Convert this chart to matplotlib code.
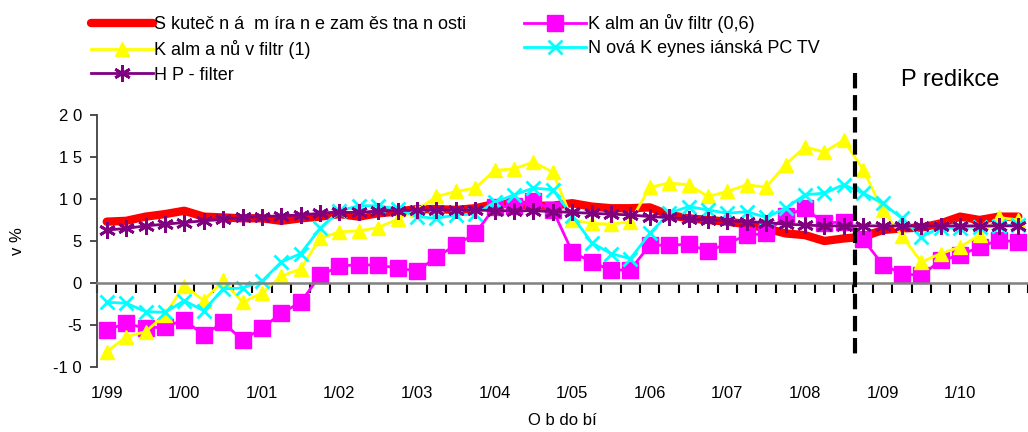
import numpy as np
import matplotlib.pyplot as plt

plt.rcParams['font.family'] = ['Liberation Sans', 'DejaVu Sans']

# quarterly data 1/99 .. 4/10
tick_labels = ['1/99', '1/00', '1/01', '1/02', '1/03', '1/04',
               '1/05', '1/06', '1/07', '1/08', '1/09', '1/10']

skutecna = [7.3, 7.4, 7.9, 8.2, 8.6, 7.9, 7.8, 7.7, 7.7, 7.4, 7.7, 7.9,
            8.2, 7.9, 8.3, 8.5, 8.8, 8.8, 8.7, 8.9, 9.4, 9.4, 9.2, 9.2,
            9.5, 9.1, 8.9, 8.9, 9.0, 8.1, 7.7, 7.5, 7.3, 7.0, 6.5, 5.9,
            5.7, 5.0, 5.3, 5.5, 6.3, 6.5, 6.6, 7.1, 7.9, 7.5, 7.9, 7.9]

kalman_06 = [-5.6, -4.8, -5.4, -5.2, -4.4, -6.2, -4.7, -6.8, -5.4, -3.6, -2.3, 0.9,
             2.0, 2.2, 2.1, 1.8, 1.4, 3.1, 4.5, 5.9, 9.0, 9.2, 9.8, 8.7,
             3.7, 2.5, 1.5, 1.6, 4.5, 4.5, 4.6, 3.8, 4.7, 5.7, 5.9, 8.0,
             8.9, 7.1, 7.3, 5.2, 2.2, 1.1, 0.9, 2.7, 3.3, 4.3, 5.1, 4.9]

kalman_1 = [-8.2, -6.4, -5.8, -3.8, -0.3, -2.1, 0.3, -2.3, -1.2, 0.8, 1.7, 5.3,
            6.1, 6.2, 6.6, 7.6, 8.7, 10.3, 10.9, 11.3, 13.4, 13.6, 14.4, 13.2,
            7.5, 7.1, 7.0, 7.3, 11.4, 11.9, 11.7, 10.3, 10.9, 11.7, 11.4, 14.1,
            16.2, 15.6, 17.0, 13.5, 8.7, 5.6, 2.5, 3.5, 4.3, 5.7, 7.8, 7.5]

nk_pc_tv = [-2.3, -2.4, -3.4, -3.5, -2.1, -3.3, -0.7, -0.6, 0.2, 2.5, 3.5, 6.5,
            8.6, 9.2, 9.2, 8.8, 7.9, 7.7, 8.1, 8.2, 9.6, 10.5, 11.3, 11.1,
            8.0, 4.8, 3.5, 2.9, 5.9, 8.3, 9.1, 8.7, 8.3, 8.5, 7.8, 8.9,
            10.5, 10.7, 11.7, 10.7, 9.5, 7.7, 5.5, 6.6, 6.6, 6.7, 6.8, 6.9]

hp_filter = [6.3, 6.5, 6.8, 7.0, 7.2, 7.4, 7.6, 7.8, 7.9, 8.0, 8.1, 8.3,
             8.4, 8.4, 8.55, 8.6, 8.7, 8.7, 8.7, 8.7, 8.6, 8.6, 8.6, 8.5,
             8.4, 8.3, 8.2, 8.1, 7.9, 7.8, 7.6, 7.5, 7.4, 7.3, 7.2, 7.0,
             6.9, 6.8, 6.8, 6.8, 6.8, 6.8, 6.8, 6.8, 6.8, 6.8, 6.8, 6.8]

pred_start = 38.6   # where the forecast begins

x = np.arange(len(skutecna))

fig = plt.figure(figsize=(10.28, 4.32), dpi=100)
ax = fig.add_axes([0.0944, 0.1505, 0.9056, 0.5833])

h_sk, = ax.plot(x, skutecna, color='#FF0000', lw=6, solid_capstyle='round',
                label='S kuteč n á  m íra n e zam ěs tna n osti')
h_k06, = ax.plot(x, kalman_06, color='#FF00FF', lw=2, marker='s', ms=11,
                 label='K alm an ův filtr (0,6)')
h_k1, = ax.plot(x, kalman_1, color='#FFFF00', lw=2, marker='^', ms=10,
                label='K alm a nů v filtr (1)')
h_nk, = ax.plot(x, nk_pc_tv, color='#00FFFF', lw=2, marker='x', ms=10, mew=2,
                label='N ová K eynes iánská PC TV')
h_hp, = ax.plot(x, hp_filter, color='#800080', lw=2, marker=(6, 2, 0), ms=12, mew=2,
                label='H P - filter')

# forecast separator
ax.plot([pred_start, pred_start], [25, -8.8], color='black', ls='--', lw=3,
        clip_on=False, zorder=6)
ax.text(43.5, 24.2, 'P redikce', fontsize=17, ha='center', va='center')

ax.set_xlim(-0.5, len(x) - 0.5)
ax.set_ylim(-10, 20)
ax.set_yticks(range(-10, 21, 5))
ax.set_yticklabels(['-1 0', '-5', '0', '5', '1 0', '1 5', '2 0'], fontsize=12)
ax.tick_params(axis='y', direction='out', length=5, width=1.3, color='#404040', pad=6)

for s in ['top', 'right']:
    ax.spines[s].set_visible(False)
ax.spines['left'].set_color('#404040')
ax.spines['left'].set_linewidth(1.3)

# category axis crosses at zero, tick marks between categories
ax.spines['bottom'].set_position(('data', 0))
ax.spines['bottom'].set_color('#808080')
ax.spines['bottom'].set_linewidth(1.8)
ax.set_xticks(np.arange(-0.5, len(x), 1))
ax.tick_params(axis='x', labelbottom=False, direction='out', length=7,
               width=1.5, color='black')

# category labels along the bottom of the plot
lab = ax.secondary_xaxis('bottom')
lab.set_xticks(x[::4], tick_labels, fontsize=12)
lab.tick_params(length=0, pad=14)
lab.spines['bottom'].set_visible(False)
lab.set_xlabel('O b do bí', fontsize=12, labelpad=8)

ax.set_ylabel('v %', fontsize=12, labelpad=20)

fig.legend(handles=[h_sk, h_k1, h_hp, h_k06, h_nk], ncol=2, loc='upper left',
           bbox_to_anchor=(0.073, 1.005), frameon=False, fontsize=13,
           handlelength=3.4, handletextpad=0.1, columnspacing=3.2,
           labelspacing=0.4)

fig.savefig('out.png', dpi=100)
